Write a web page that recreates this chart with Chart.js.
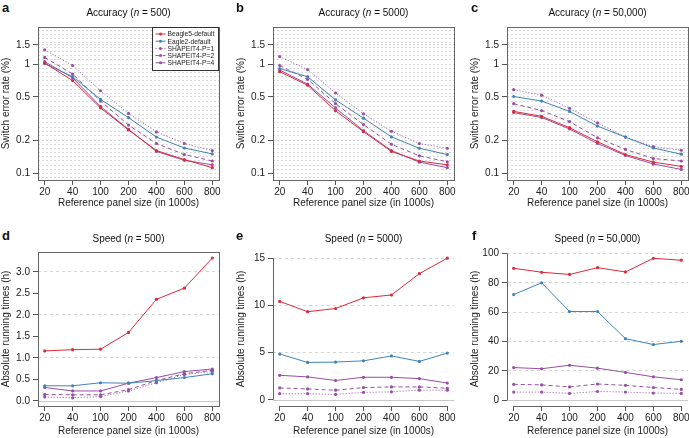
<!DOCTYPE html>
<html>
<head>
<meta charset="utf-8">
<script src="https://cdn.jsdelivr.net/npm/chart.js@4.4.1/dist/chart.umd.min.js"></script>
<style>
  body { margin: 0; width: 689px; height: 438px; overflow: hidden; background: #fff; position: relative;
         font-family: "Liberation Sans", Arial, sans-serif; color: #111; }
  canvas { position: absolute; }
  .letter { position: absolute; font-weight: bold; font-size: 13px; line-height: 13px; }
  .title { position: absolute; font-size: 10px; line-height: 12px; text-align: center; width: 181px; }
</style>
</head>
<body>
<script>
const panelSizes = ["20", "40", "100", "200", "400", "600", "800"];
const methods = ["Beagle5-default", "Eagle2-default", "SHAPEIT4-P=1", "SHAPEIT4-P=2", "SHAPEIT4-P=4"];

const accTicks = [0.1, 0.2, 0.5, 1, 1.5];
const speedTicks500 = [0, 0.5, 1, 1.5, 2, 2.5, 3];
const speedTicks5000 = [0, 5, 10, 15];
const speedTicks50000 = [0, 20, 40, 60, 80, 100];
const speedGrid500 = [1, 2, 3];
const speedGrid5000 = [5, 10, 15];
const speedGrid50000 = [20, 40, 60, 80, 100];

// switch error rate (%), n = 500
const acc500Beagle = [1.02, 0.706, 0.397, 0.25, 0.162, 0.134, 0.113];
const acc500Eagle = [1.01, 0.766, 0.475, 0.324, 0.215, 0.171, 0.151];
const acc500P1 = [1.35, 0.97, 0.57, 0.354, 0.24, 0.188, 0.162];
const acc500P2 = [1.15, 0.81, 0.459, 0.277, 0.188, 0.149, 0.13];
const acc500P4 = [1.05, 0.75, 0.41, 0.253, 0.159, 0.132, 0.12];

// n = 5000
const acc5000Beagle = [0.85, 0.64, 0.374, 0.241, 0.159, 0.13, 0.12];
const acc5000Eagle = [0.91, 0.766, 0.47, 0.32, 0.216, 0.17, 0.149];
const acc5000P1 = [1.17, 0.89, 0.544, 0.351, 0.243, 0.188, 0.17];
const acc5000P2 = [0.97, 0.725, 0.434, 0.28, 0.185, 0.145, 0.128];
const acc5000P4 = [0.88, 0.655, 0.397, 0.246, 0.162, 0.127, 0.113];

// n = 50,000
const acc50000Beagle = [0.369, 0.333, 0.262, 0.195, 0.149, 0.127, 0.116];
const acc50000Eagle = [0.505, 0.459, 0.369, 0.271, 0.215, 0.171, 0.15];
const acc50000P1 = [0.583, 0.52, 0.394, 0.29, 0.215, 0.176, 0.163];
const acc50000P2 = [0.434, 0.376, 0.298, 0.212, 0.166, 0.137, 0.13];
const acc50000P4 = [0.36, 0.325, 0.255, 0.188, 0.146, 0.122, 0.109];

// running times (h)
const time500Beagle = [1.16, 1.19, 1.2, 1.59, 2.36, 2.62, 3.32];
const time500Eagle = [0.35, 0.35, 0.42, 0.41, 0.47, 0.54, 0.63];
const time500P1 = [0.09, 0.07, 0.1, 0.23, 0.42, 0.61, 0.68];
const time500P2 = [0.15, 0.14, 0.14, 0.26, 0.47, 0.63, 0.71];
const time500P4 = [0.31, 0.23, 0.23, 0.41, 0.54, 0.68, 0.74];

const time5000Beagle = [10.42, 9.33, 9.67, 10.8, 11.1, 13.36, 15.0];
const time5000Eagle = [4.85, 3.96, 4.0, 4.13, 4.65, 4.07, 4.95];
const time5000P1 = [0.65, 0.65, 0.58, 0.79, 0.85, 1.02, 1.02];
const time5000P2 = [1.26, 1.16, 1.02, 1.3, 1.37, 1.37, 1.23];
const time5000P4 = [2.6, 2.43, 2.05, 2.39, 2.39, 2.25, 1.78];

const time50000Beagle = [89.9, 87.2, 85.7, 90.3, 87.4, 96.7, 95.4];
const time50000Eagle = [72.0, 80.0, 60.4, 60.4, 41.9, 37.9, 40.1];
const time50000P1 = [5.5, 5.5, 4.6, 5.9, 5.5, 4.8, 4.6];
const time50000P2 = [10.8, 10.4, 9.0, 11.0, 10.1, 8.6, 7.3];
const time50000P4 = [22.2, 21.4, 23.8, 21.8, 18.9, 15.9, 13.9];

Chart.defaults.font.family = '"Liberation Sans", Arial, sans-serif';
Chart.defaults.color = "#222";

const red = "#dc2a3a";
const blue = "#3f83b8";
const purple = "#984ea3";
const lineStyles = [
  { color: red, dash: [] },
  { color: blue, dash: [] },
  { color: purple, dash: [1, 2] },
  { color: purple, dash: [4, 3] },
  { color: purple, dash: [] },
];

const plotW = 181;

function buildDatasets(series) {
  return series.map((vals, i) => ({
    label: methods[i],
    data: vals.map((v, k) => ({ x: k, y: v })),
    borderColor: lineStyles[i].color,
    backgroundColor: lineStyles[i].color,
    borderDash: lineStyles[i].dash,
    borderWidth: 1,
    pointRadius: 1.6,
    pointBorderWidth: 0,
    tension: 0,
  }));
}

// box round the plot, or R-like axis lines, plus the solid zero line
const framePlugin = {
  id: "frame",
  afterDatasetsDraw(chart, args, opts) {
    const { ctx, chartArea: a } = chart;
    ctx.save();
    ctx.lineWidth = 1;
    if (opts.zeroLine) {
      const y0 = Math.round(chart.scales.y.getPixelForValue(0)) + 0.5;
      ctx.strokeStyle = "#c8c8c8";
      ctx.beginPath(); ctx.moveTo(a.left, y0); ctx.lineTo(a.right, y0); ctx.stroke();
    }
    ctx.strokeStyle = "#666";
    if (opts.box) {
      ctx.strokeRect(Math.round(a.left) + 0.5, Math.round(a.top) + 0.5,
        Math.round(a.right - a.left), Math.round(a.bottom - a.top));
    } else {
      const xs = chart.scales.x, ys = chart.scales.y;
      const yt = ys.ticks;
      const l = Math.round(a.left) + 0.5, b = Math.round(a.bottom) + 0.5;
      ctx.beginPath();
      ctx.moveTo(l, ys.getPixelForValue(yt[0].value));
      ctx.lineTo(l, ys.getPixelForValue(yt[yt.length - 1].value));
      ctx.moveTo(xs.getPixelForValue(0), b);
      ctx.lineTo(xs.getPixelForValue(panelSizes.length - 1), b);
      ctx.stroke();
    }
    ctx.restore();
  },
};

const legendPlugin = {
  id: "boxLegend",
  afterDatasetsDraw(chart, args, opts) {
    if (!opts.show) return;
    const { ctx, chartArea: a } = chart;
    const w = 66, h = 43;
    const x = Math.round(a.right - w - 1) + 0.5, y = Math.round(a.top) + 0.5;
    ctx.save();
    ctx.fillStyle = "#fff";
    ctx.fillRect(x, y, w, h);
    ctx.strokeStyle = "#333";
    ctx.lineWidth = 1;
    ctx.strokeRect(x, y, w, h);
    ctx.font = '6.7px "Liberation Sans", Arial, sans-serif';
    ctx.textBaseline = "middle";
    chart.data.datasets.forEach((ds, i) => {
      const yy = y + 6.5 + i * 7.2;
      ctx.strokeStyle = ds.borderColor;
      ctx.setLineDash(ds.borderDash);
      ctx.beginPath(); ctx.moveTo(x + 3, yy); ctx.lineTo(x + 13, yy); ctx.stroke();
      ctx.setLineDash([]);
      ctx.fillStyle = ds.borderColor;
      ctx.beginPath(); ctx.arc(x + 8, yy, 1.5, 0, Math.PI * 2); ctx.fill();
      ctx.fillStyle = "#222";
      ctx.fillText(ds.label, x + 15, yy + 0.5);
    });
    ctx.restore();
  },
};

function xAxis() {
  return {
    type: "linear",
    min: -0.24,
    max: 6.24,
    afterBuildTicks: (s) => { s.ticks = panelSizes.map((_, i) => ({ value: i })); },
    afterFit: (s) => { s.height = s.options.fixedHeight; },
    ticks: { autoSkip: false, maxRotation: 0, padding: 1, font: { size: 10 },
             callback: (v, i) => panelSizes[i] },
    grid: { drawOnChartArea: false, tickLength: 5, tickColor: "#555" },
    border: { display: false },
    title: { display: true, text: "Reference panel size (in 1000s)", font: { size: 10 },
             padding: { top: 0, bottom: 0 } },
  };
}

function logYAxis() {
  const lo = 0.0872, hi = 2.18;
  const step = 1 / 26;
  const grid = [];
  for (let k = -30; k <= 9; k++) {
    const v = Math.pow(10, k * step);
    if (v < lo || v > hi) continue;
    if (accTicks.every((t) => Math.abs(Math.log10(t) - Math.log10(v)) > 0.012)) grid.push(v);
  }
  return {
    type: "logarithmic",
    min: lo,
    max: hi,
    afterBuildTicks: (s) => {
      const t = grid.map((v) => ({ value: v, show: false }))
        .concat(accTicks.map((v) => ({ value: v, show: true })));
      t.sort((p, q) => p.value - q.value);
      s.ticks = t;
    },
    afterFit: (s) => { s.width = 38; },
    ticks: { autoSkip: false, padding: 3, font: { size: 10 },
             callback: (v, i, t) => (t[i].show ? String(v) : "") },
    grid: { color: "#d9d9d9", tickLength: 5,
            tickColor: (c) => (c.tick && c.tick.show ? "#555" : "rgba(0,0,0,0)") },
    border: { display: false, dash: [2, 2] },
    title: { display: true, text: "Switch error rate (%)", font: { size: 10 },
             padding: { top: 0, bottom: 0 } },
  };
}

function linYAxis(tickVals, gridVals, lo, hi, digits) {
  return {
    type: "linear",
    min: lo,
    max: hi,
    afterBuildTicks: (s) => { s.ticks = tickVals.map((v) => ({ value: v })); },
    afterFit: (s) => { s.width = 38; },
    ticks: { autoSkip: false, padding: 3, font: { size: 10 },
             callback: (v) => v.toFixed(digits) },
    grid: { color: (c) => (c.tick && gridVals.includes(c.tick.value) ? "#d6d6d6" : "rgba(0,0,0,0)"),
            tickLength: 5, tickColor: "#555" },
    border: { display: false, dash: [3, 3] },
    title: { display: true, text: "Absolute running times (h)", font: { size: 10 },
             padding: { top: 0, bottom: 0 } },
  };
}

function addText(cls, html, left, top) {
  const d = document.createElement("div");
  d.className = cls;
  d.innerHTML = html;
  d.style.left = left + "px";
  d.style.top = top + "px";
  document.body.appendChild(d);
}

function panel(p) {
  const canvas = document.createElement("canvas");
  const xh = p.xHeight;
  canvas.width = plotW + 38 + 4;
  canvas.height = p.B - p.T + 5 + xh + 1;
  canvas.style.left = (p.L - 38) + "px";
  canvas.style.top = (p.T - 5) + "px";
  document.body.appendChild(canvas);

  const x = xAxis();
  x.fixedHeight = xh;
  new Chart(canvas, {
    type: "line",
    data: { datasets: buildDatasets(p.series) },
    options: {
      responsive: false,
      animation: false,
      layout: { padding: { top: 5, right: 4, left: 0, bottom: 1 } },
      scales: { x: x, y: p.y },
      plugins: {
        legend: { display: false },
        tooltip: { enabled: false },
        frame: { box: p.box, zeroLine: p.zeroLine },
        boxLegend: { show: !!p.legend },
      },
    },
    plugins: [framePlugin, legendPlugin],
  });

  addText("letter", p.letter, p.letterX, p.T - (p.T < 100 ? 22 : 19));
  addText("title", p.title, p.L, p.T - (p.T < 100 ? 16 : 15));
}

const cols = [38, 273, 507];

panel({ letter: "a", letterX: 2, title: "Accuracy (<i>n</i> = 500)", L: cols[0], T: 23, B: 180, xHeight: 29,
        box: true, legend: true, y: logYAxis(),
        series: [acc500Beagle, acc500Eagle, acc500P1, acc500P2, acc500P4] });
panel({ letter: "b", letterX: 236, title: "Accuracy (<i>n</i> = 5000)", L: cols[1], T: 23, B: 180, xHeight: 29,
        box: true, y: logYAxis(),
        series: [acc5000Beagle, acc5000Eagle, acc5000P1, acc5000P2, acc5000P4] });
panel({ letter: "c", letterX: 471, title: "Accuracy (<i>n</i> = 50,000)", L: cols[2], T: 23, B: 180, xHeight: 29,
        box: true, y: logYAxis(),
        series: [acc50000Beagle, acc50000Eagle, acc50000P1, acc50000P2, acc50000P4] });

panel({ letter: "d", letterX: 2, title: "Speed (<i>n</i> = 500)", L: cols[0], T: 248, B: 406, xHeight: 31,
        box: true, zeroLine: true, y: linYAxis(speedTicks500, speedGrid500, -0.12, 3.46, 1),
        series: [time500Beagle, time500Eagle, time500P1, time500P2, time500P4] });
panel({ letter: "e", letterX: 236, title: "Speed (<i>n</i> = 5000)", L: cols[1], T: 248, B: 406, xHeight: 31,
        box: false, zeroLine: true, y: linYAxis(speedTicks5000, speedGrid5000, -0.65, 15.65, 0),
        series: [time5000Beagle, time5000Eagle, time5000P1, time5000P2, time5000P4] });
panel({ letter: "f", letterX: 472, title: "Speed (<i>n</i> = 50,000)", L: cols[2], T: 248, B: 406, xHeight: 31,
        box: false, zeroLine: true, y: linYAxis(speedTicks50000, speedGrid50000, -4, 101, 0),
        series: [time50000Beagle, time50000Eagle, time50000P1, time50000P2, time50000P4] });
</script>
</body>
</html>
